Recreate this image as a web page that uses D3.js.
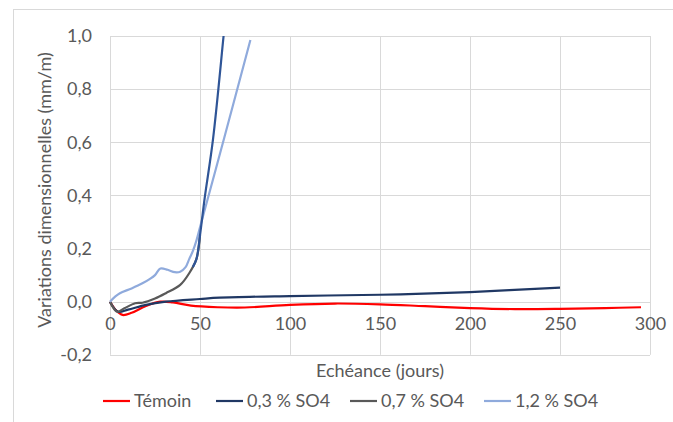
<!DOCTYPE html>
<html><head><meta charset="utf-8">
<script src="https://cdn.jsdelivr.net/npm/d3@7/dist/d3.min.js"></script>
<style>
html,body{margin:0;padding:0;background:#fff;}
svg{display:block;font-family:Lato,"Open Sans",sans-serif;}
</style></head>
<body><svg id="c" width="673" height="422"></svg>
<script>
// ---- data ----
const xTicks = [0, 50, 100, 150, 200, 250, 300];
const yTicks = [-0.2, 0, 0.2, 0.4, 0.6, 0.8, 1.0];
const seriesNames = ["Témoin", "0,3 % SO4", "0,7 % SO4", "1,2 % SO4"];
const seriesColors = ["#FF0000", "#203864", "#595959", "#8FAADC"];

const temoinDays = [0, 3, 7, 12, 20, 28, 35, 45, 60, 75, 100, 125, 150, 175, 200, 225, 250, 275, 295];
const temoinVals = [0, -0.03, -0.05, -0.042, -0.016, 0.0, -0.003, -0.015, -0.021, -0.022, -0.012, -0.007, -0.01, -0.017, -0.024, -0.028, -0.027, -0.024, -0.021];

const so4_03Days = [0, 4.5, 10, 20, 31, 50, 61, 100, 150, 170, 200, 250];
const so4_03Vals = [0, -0.038, -0.03, -0.012, 0.0, 0.01, 0.015, 0.021, 0.026, 0.029, 0.036, 0.053];

const so4_07Days = [0, 4, 8, 14, 18, 25, 31, 39, 44, 48, 50];
const so4_07Vals = [0, -0.038, -0.025, -0.006, -0.004, 0.012, 0.032, 0.063, 0.107, 0.16, 0.25];

const so4_12Days = [0, 3, 5.5, 12, 18, 22, 25, 28, 32, 36, 39, 42, 44, 46, 48, 50, 64, 78];
const so4_12Vals = [0, 0.02, 0.032, 0.05, 0.069, 0.085, 0.10, 0.125, 0.12, 0.111, 0.113, 0.13, 0.16, 0.19, 0.23, 0.28, 0.63, 0.985];

// steep continuation drawn in blue (not in legend)
const steepDays = [46, 48, 50, 52.6, 57.2, 63.1, 66];
const steepVals = [0.13, 0.16, 0.25, 0.39, 0.61, 1.0, 1.2];
const steepColor = "#2F5597";

// ---- layout ----
const svg = d3.select("#c");
const X0 = 110, X1 = 650, Y0 = 354.8, Y1 = 36;
const x = d3.scaleLinear().domain([0, 300]).range([X0, X1]);
const y = d3.scaleLinear().domain([-0.2, 1.0]).range([Y0, Y1]);
const txt = "#595959", grid = "#d9d9d9";
const FS = 18;

// chart border
svg.append("rect").attr("x", 13.5).attr("y", 9.5).attr("width", 700).attr("height", 500)
  .attr("fill", "none").attr("stroke", grid).attr("stroke-width", 1);

// gridlines
svg.append("g").selectAll("line").data(yTicks).join("line")
  .attr("x1", X0).attr("x2", X1)
  .attr("y1", d => Math.round(y(d)) + 0.5).attr("y2", d => Math.round(y(d)) + 0.5)
  .attr("stroke", grid).attr("stroke-width", 1);
svg.append("g").selectAll("line").data(xTicks).join("line")
  .attr("y1", Y0).attr("y2", Y1)
  .attr("x1", d => Math.round(x(d)) + 0.5).attr("x2", d => Math.round(x(d)) + 0.5)
  .attr("stroke", grid).attr("stroke-width", 1);

// axes via d3 axis, restyled (category axis crosses at 0)
const fmt = d => d3.format(".1f")(d).replace(".", ",").replace("−", "-");
const yAxis = svg.append("g").attr("transform", `translate(${X0},0)`)
  .call(d3.axisLeft(y).tickValues(yTicks).tickFormat(fmt).tickSize(0).tickPadding(18));
const xAxis = svg.append("g").attr("transform", `translate(0,${y(0)})`)
  .call(d3.axisBottom(x).tickValues(xTicks).tickFormat(d3.format("d")).tickSize(0).tickPadding(16));
[yAxis, xAxis].forEach(g => {
  g.select(".domain").remove();
  g.selectAll("text").attr("fill", txt).attr("font-size", FS).attr("font-family", "Lato,'Open Sans',sans-serif");
});

// titles
svg.append("text").attr("x", 380).attr("y", 377).attr("text-anchor", "middle")
  .attr("fill", txt).attr("font-size", FS).text("Echéance (jours)");
svg.append("text").attr("transform", "translate(51,190) rotate(-90)").attr("text-anchor", "middle")
  .attr("fill", txt).attr("font-size", FS).text("Variations dimensionnelles (mm/m)");

// clip
svg.append("clipPath").attr("id", "pc").append("rect")
  .attr("x", X0 - 2).attr("y", Y1).attr("width", X1 - X0 + 4).attr("height", Y0 - Y1);

const line = d3.line().x(d => x(d[0])).y(d => y(d[1])).curve(d3.curveCatmullRom.alpha(0.5));
const zip = (a, b) => a.map((v, i) => [v, b[i]]);
const series = [
  zip(temoinDays, temoinVals),
  zip(so4_03Days, so4_03Vals),
  zip(so4_07Days, so4_07Vals),
  zip(so4_12Days, so4_12Vals)
];
const pg = svg.append("g").attr("clip-path", "url(#pc)");
series.forEach((s, i) => {
  pg.append("path").attr("d", line(s)).attr("fill", "none")
    .attr("stroke", seriesColors[i]).attr("stroke-width", 2.2).attr("stroke-linejoin", "round");
});
pg.append("path").attr("d", line(zip(steepDays, steepVals))).attr("fill", "none")
  .attr("stroke", steepColor).attr("stroke-width", 2.2);

// legend
const legX = [103, 216, 350, 484];
const lg = svg.append("g");
seriesNames.forEach((n, i) => {
  lg.append("line").attr("x1", legX[i]).attr("x2", legX[i] + 27).attr("y1", 401).attr("y2", 401)
    .attr("stroke", seriesColors[i]).attr("stroke-width", 2.2);
  lg.append("text").attr("x", legX[i] + 31).attr("y", 407).attr("fill", txt)
    .attr("font-size", FS).text(n);
});
</script></body></html>
